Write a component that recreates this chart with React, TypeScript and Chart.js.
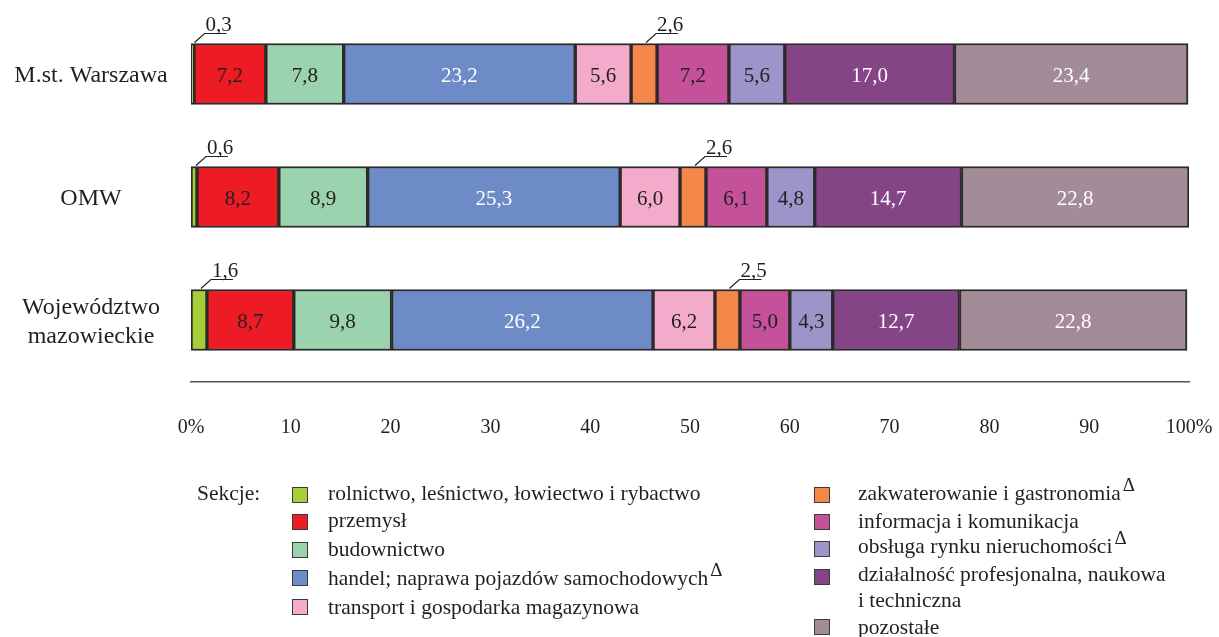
import React, { useEffect, useRef } from "react";
import { Chart, registerables } from "chart.js";

Chart.register(...registerables);

const categoryLines: string[][] = [["M.st. Warszawa"], ["OMW"], ["Województwo", "mazowieckie"]];

const sections = [
  "rolnictwo, leśnictwo, łowiectwo i rybactwo",
  "przemysł",
  "budownictwo",
  "handel; naprawa pojazdów samochodowych",
  "transport i gospodarka magazynowa",
  "zakwaterowanie i gastronomia",
  "informacja i komunikacja",
  "obsługa rynku nieruchomości",
  "działalność profesjonalna, naukowa i techniczna",
  "pozostałe",
];

const rolnictwo = [0.3, 0.6, 1.6];
const przemysl = [7.2, 8.2, 8.7];
const budownictwo = [7.8, 8.9, 9.8];
const handel = [23.2, 25.3, 26.2];
const transport = [5.6, 6.0, 6.2];
const zakwaterowanie = [2.6, 2.6, 2.5];
const informacja = [7.2, 6.1, 5.0];
const obsluga = [5.6, 4.8, 4.3];
const dzialalnosc = [17.0, 14.7, 12.7];
const pozostale = [23.4, 22.8, 22.8];

const seriesValues = [
  rolnictwo, przemysl, budownictwo, handel, transport,
  zakwaterowanie, informacja, obsluga, dzialalnosc, pozostale,
];

const xTicks = [0, 10, 20, 30, 40, 50, 60, 70, 80, 90, 100];

const colors = [
  "#A6CE39", "#ED1C24", "#9BD3AE", "#6C8BC7", "#F4AACB",
  "#F5874A", "#C5519B", "#9B95C9", "#844486", "#A38B97",
];
const labelColors = [
  "#231F20", "#231F20", "#231F20", "#FFFFFF", "#231F20",
  "#231F20", "#231F20", "#231F20", "#FFFFFF", "#FFFFFF",
];

const SERIF = "'Liberation Serif', 'DejaVu Serif', serif";
const fmt = (v: number) => v.toFixed(1).replace(".", ",");

const labelPlugin = {
  id: "customLabels",
  afterDatasetsDraw(chart: any) {
    const ctx = chart.ctx;
    ctx.save();
    ctx.font = `21px ${SERIF}`;
    chart.data.datasets.forEach((ds: any, di: number) => {
      const meta = chart.getDatasetMeta(di);
      meta.data.forEach((el: any, i: number) => {
        const { x, y, base, height } = el.getProps(["x", "y", "base", "height"], true);
        const v = ds.data[i];
        const cx = (x + base) / 2;
        const top = y - height / 2;
        if (v >= 3) {
          ctx.fillStyle = labelColors[di];
          ctx.textAlign = "center";
          ctx.textBaseline = "middle";
          ctx.fillText(fmt(v), cx, y + 2);
        } else {
          const sx = cx + 2;
          const ex = sx + 10;
          const ly = top - 10;
          ctx.strokeStyle = "#231F20";
          ctx.lineWidth = 1.2;
          ctx.beginPath();
          ctx.moveTo(sx, top - 1);
          ctx.lineTo(ex, ly);
          ctx.lineTo(ex + 22, ly);
          ctx.stroke();
          ctx.fillStyle = "#231F20";
          ctx.textAlign = "left";
          ctx.textBaseline = "alphabetic";
          ctx.fillText(fmt(v), ex + 1, ly - 3);
        }
      });
    });
    // category labels
    const yScale = chart.scales.y;
    ctx.font = `24px ${SERIF}`;
    ctx.fillStyle = "#231F20";
    ctx.textAlign = "center";
    ctx.textBaseline = "middle";
    categoryLines.forEach((lines, i) => {
      const cy = yScale.getPixelForValue(i);
      const n = lines.length;
      lines.forEach((ln, k) => {
        ctx.fillText(ln, 91, cy + 2 + (k - (n - 1) / 2) * 29);
      });
    });
    ctx.restore();
  },
};

type LegendItem = { text: string; delta?: boolean; top: number; swatchTop: number };

const col1: LegendItem[] = [
  { text: sections[0], top: 493, swatchTop: 495 },
  { text: sections[1], top: 520, swatchTop: 522 },
  { text: sections[2], top: 549, swatchTop: 550 },
  { text: sections[3], delta: true, top: 578, swatchTop: 578 },
  { text: sections[4], top: 607, swatchTop: 607 },
];
const col2: LegendItem[] = [
  { text: sections[5], delta: true, top: 493, swatchTop: 495 },
  { text: sections[6], top: 521, swatchTop: 522 },
  { text: sections[7], delta: true, top: 546, swatchTop: 549 },
  { text: "działalność profesjonalna, naukowa", top: 574, swatchTop: 577 },
  { text: "pozostałe", top: 627, swatchTop: 627 },
];

export default function App() {
  const canvasRef = useRef<HTMLCanvasElement | null>(null);

  useEffect(() => {
    if (!canvasRef.current) return;
    const chart = new Chart(canvasRef.current, {
      type: "bar",
      data: {
        labels: categoryLines.map((l) => l.join(" ")),
        datasets: seriesValues.map((vals, i) => ({
          label: sections[i],
          data: vals,
          backgroundColor: colors[i],
          borderColor: "#2B2A29",
          borderWidth: 2,
          borderSkipped: false,
          barThickness: 61,
        })),
      },
      options: {
        indexAxis: "y",
        responsive: false,
        animation: false,
        devicePixelRatio: 1,
        layout: { padding: { left: 0, right: 30, top: 12.5, bottom: 185.5 } },
        plugins: { legend: { display: false }, tooltip: { enabled: false } },
        scales: {
          x: {
            stacked: true,
            min: 0,
            max: 100,
            afterBuildTicks: (scale: any) => {
              scale.ticks = xTicks.map((v) => ({ value: v }));
            },
            afterFit: (scale: any) => {
              scale.height = 70;
              scale.paddingLeft = 0;
              scale.paddingRight = 0;
            },
            grid: { display: false, drawTicks: false },
            border: { display: true, color: "#555555", width: 1.5 },
            ticks: {
              padding: 34,
              maxRotation: 0,
              autoSkip: false,
              color: "#231F20",
              font: { family: SERIF, size: 20 },
              callback: (v: any) => (v === 0 ? "0%" : v === 100 ? "100%" : String(v)),
            },
          },
          y: {
            stacked: true,
            afterFit: (scale: any) => {
              scale.width = 191;
            },
            grid: { display: false },
            border: { display: false },
            ticks: { display: false },
          },
        },
      },
      plugins: [labelPlugin],
    } as any);
    return () => chart.destroy();
  }, []);

  const textStyle: React.CSSProperties = {
    position: "absolute",
    fontFamily: SERIF,
    fontSize: "21.5px",
    lineHeight: "24px",
    height: "24px",
    color: "#231F20",
    whiteSpace: "nowrap",
  };
  const deltaStyle: React.CSSProperties = {
    fontSize: "19px",
    position: "relative",
    top: "-9px",
    marginLeft: "2px",
  };

  const renderCol = (items: LegendItem[], swX: number, txX: number, offset: number) =>
    items.map((it, i) => (
      <React.Fragment key={`${swX}-${i}`}>
        <div
          style={{
            position: "absolute",
            left: swX,
            top: it.swatchTop - 8,
            width: 14,
            height: 14,
            background: colors[offset + i],
            border: "1px solid #3A3A3A",
          }}
        />
        <div style={{ ...textStyle, left: txX, top: it.top - 12 }}>
          {it.text}
          {it.delta ? <span style={deltaStyle}>Δ</span> : null}
        </div>
      </React.Fragment>
    ));

  return (
    <div style={{ position: "absolute", left: 0, top: 0, width: 1219, height: 637, background: "#fff", overflow: "hidden" }}>
      <canvas ref={canvasRef} width={1219} height={637} style={{ display: "block" }} />
      <div style={{ ...textStyle, left: 197, top: 493 - 12 }}>Sekcje:</div>
      {renderCol(col1, 292, 328, 0)}
      {renderCol(col2, 814, 858, 5)}
      <div style={{ ...textStyle, left: 858, top: 600 - 12 }}>i techniczna</div>
    </div>
  );
}
